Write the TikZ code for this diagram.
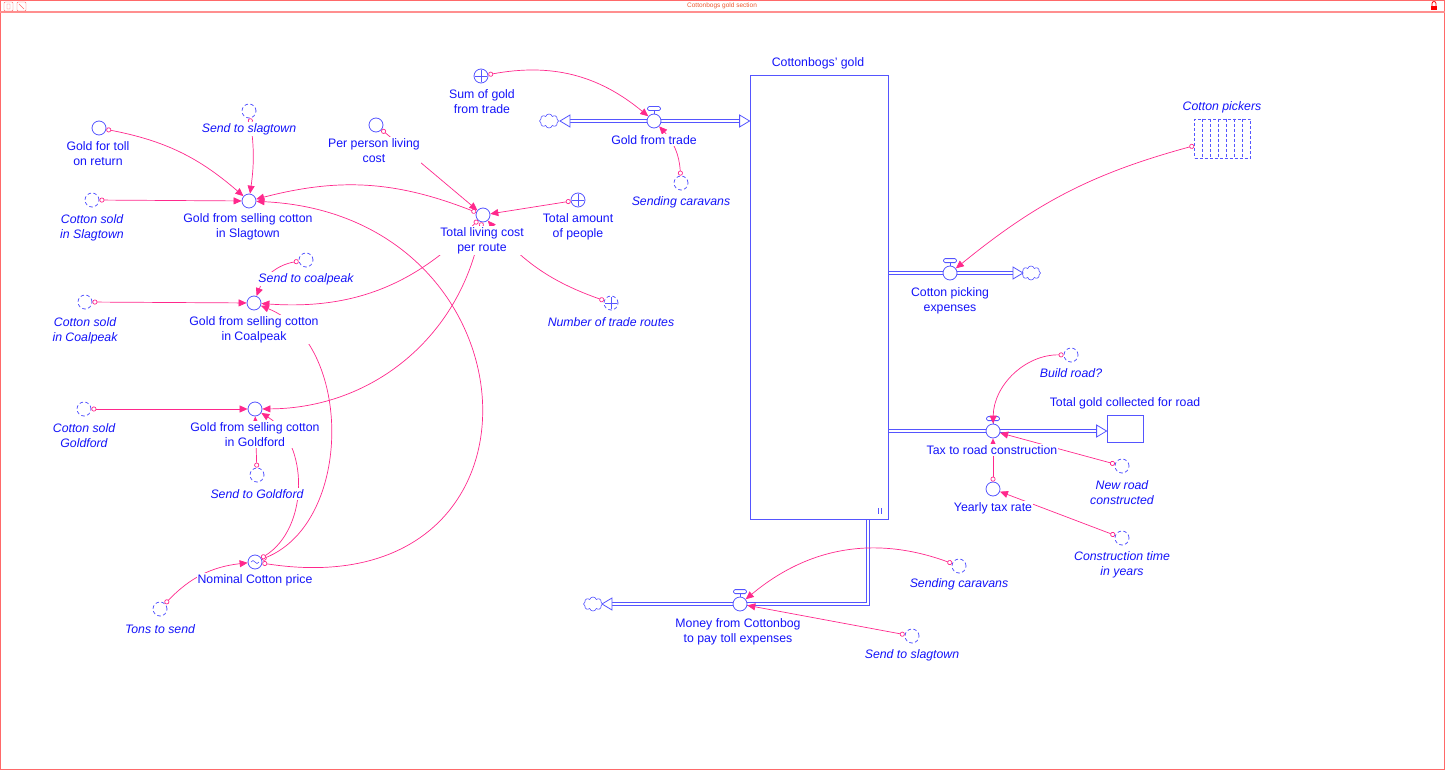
\documentclass[tikz,border=0pt]{standalone}
\usepackage{fontspec}
\setmainfont{Liberation Sans}
\usetikzlibrary{arrows.meta,shapes.symbols,backgrounds,positioning}
\definecolor{txtc}{RGB}{20,20,250}
\definecolor{linec}{RGB}{85,85,255}
\definecolor{linkc}{RGB}{255,40,140}
\definecolor{framec}{RGB}{255,105,105}
\definecolor{titlec}{RGB}{235,90,50}
\tikzset{
  lbl/.style={font=\fontsize{12.3}{15}\selectfont, text=txtc, align=center, inner sep=1pt, fill=white},
  glbl/.style={lbl, font=\fontsize{12.3}{15}\selectfont\itshape},
  aux/.style={circle, draw=linec, fill=white, minimum size=14pt, inner sep=0pt, line width=0.8pt},
  ghost/.style={aux, dash pattern=on 3.5pt off 2.5pt},
  plusmark/.style={path picture={\draw[linec, line width=0.7pt, solid]
      ([yshift=-1pt]path picture bounding box.north) -- ([yshift=1pt]path picture bounding box.south)
      ([xshift=1pt]path picture bounding box.west) -- ([xshift=-1pt]path picture bounding box.east);}},
  tildemark/.style={path picture={\draw[linec, line width=0.6pt]
      ([xshift=-4pt]path picture bounding box.center) sin ++(2,1.5) cos ++(2,-1.5) sin ++(2,-1.5) cos ++(2,1.5);}},
  stock/.style={draw=linec, fill=white, line width=0.8pt, inner sep=0pt},
  cloudy/.style={cloud, cloud puffs=8, draw=linec, fill=white, minimum width=19pt, minimum height=14pt, inner sep=0pt, line width=0.6pt},
  pipe/.style={draw=linec, double=white, double distance=2.4pt, line width=0.8pt},
  pipehead/.style={draw=linec, fill=white, line width=0.8pt, line join=miter},
  link/.style={draw=linkc, line width=0.7pt, arrows={Circle[length=5pt,width=5pt,fill=white]-Triangle[length=8pt,width=7pt]}},
}
\newcommand*{\valvecap}[1]{%
  \draw[linec, line width=0.8pt] (#1.north) -- ++(0,3);
  \draw[linec, line width=0.8pt, fill=white, rounded corners=1.5pt]
    ([shift={(-6.5,3)}]#1.north) rectangle ([shift={(6.5,7)}]#1.north);
}
\newcommand*{\pipehead}[2]{%
  \draw[pipehead, shift={(#1)}, rotate=#2] (0,0) -- (-10,6) -- (-10,-6) -- cycle;
}
\begin{document}
\begin{tikzpicture}[x=1pt, y=1pt]
  \useasboundingbox (0,0) rectangle (1445,-770);

  \draw[framec] (0.5,-0.5) rectangle (1444.5,-769.5);
  \draw[framec!75, line width=2pt] (0,-12) -- (1445,-12);
  \node[font=\fontsize{6.5}{7}\selectfont, text=titlec, inner sep=0pt] (title) at (722,-6) {Cottonbogs gold section};
  \draw[framec, rounded corners=1pt] (4,-2) rectangle (13,-11) (17,-2) rectangle (26,-11);
  \draw[framec] (7,-4) rectangle (10,-9) (19,-4) -- (24,-9);
  \fill[red] (1431,-6) rectangle (1437,-10);
  \draw[red, line width=0.8pt] (1432,-6) -- (1432,-3.5) arc (180:0:2) -- (1436,-6);

  \node[stock, minimum width=138pt, minimum height=444pt] (cbg) at (819,-297) {};
  \node[stock, minimum width=36pt, minimum height=27pt] (tgc) at (1125,-428.5) {};
  \draw[linec, line width=0.6pt] (878,-508) -- (878,-514) (881,-508) -- (881,-514);

  \node[draw=linec, dash pattern=on 3pt off 2pt, line width=0.7pt, minimum width=56pt, minimum height=39pt, inner sep=0pt] (picker) at (1222.5,-138.5) {};
  \foreach \k in {1,...,6}
  {
    \draw[linec, dash pattern=on 3pt off 2pt, line width=0.7pt] ([xshift=\k*8pt]picker.north west) -- ([xshift=\k*8pt]picker.south west);
  }

  \node[cloudy] (cl1) at (549,-121) {};
  \node[cloudy] (cl2) at (1031,-273) {};
  \node[cloudy] (cl3) at (593,-604) {};

  \node[aux] (vtrade) at (654,-121) {};
  \node[aux] (vpick) at (950,-273) {};
  \node[aux] (vtax) at (993,-431) {};
  \node[aux] (vmoney) at (740,-604) {};
  \foreach \v in {vtrade, vpick, vtax, vmoney}
  {
    \valvecap{\v}
  }

  \coordinate (tradeTip) at (560,-121);
  \coordinate (tradeIn) at (cbg.west |- vtrade);
  \coordinate (pickOut) at (cbg.east |- vpick);
  \coordinate (pickTip) at (1023,-273);
  \coordinate (taxOut) at (cbg.east |- vtax);
  \coordinate (taxIn) at (tgc.west |- vtax);
  \coordinate (moneyOut) at (868,-519);
  \coordinate (moneyBend) at (868,-604);
  \coordinate (moneyTip) at (602,-604);

  \begin{scope}[on background layer]
    \draw[pipe] ([xshift=10pt]tradeTip) -- (vtrade) -- ([xshift=-10pt]tradeIn);
    \draw[pipe] (pickOut) -- (vpick) -- ([xshift=-10pt]pickTip);
    \draw[pipe] (taxOut) -- (vtax) -- ([xshift=-10pt]taxIn);
    \draw[pipe] (moneyOut) -- (moneyBend) -- (vmoney) -- ([xshift=10pt]moneyTip);
  \end{scope}
  \pipehead{tradeTip}{180}
  \pipehead{tradeIn}{0}
  \pipehead{pickTip}{0}
  \pipehead{taxIn}{0}
  \pipehead{moneyTip}{180}

  \node[aux] (glt) at (99,-128) {};
  \node[ghost] (sst1) at (249,-111) {};
  \node[ghost] (csl) at (92,-200) {};
  \node[aux] (gsl) at (249,-201) {};
  \node[aux] (ppl) at (376,-125) {};
  \node[aux] (tlc) at (483,-215) {};
  \node[aux, plusmark] (tap) at (578,-200) {};
  \node[aux, plusmark] (sgt) at (481,-76) {};
  \node[ghost] (sc1) at (681,-183) {};
  \node[ghost, plusmark] (ntr) at (611,-303) {};
  \node[ghost] (stc) at (306,-260) {};
  \node[ghost] (ccp) at (85,-302) {};
  \node[aux] (gcp) at (254,-303) {};
  \node[ghost] (cgf) at (84,-409) {};
  \node[aux] (ggf) at (255,-409) {};
  \node[ghost] (stg) at (257,-475) {};
  \node[aux, tildemark] (ncp) at (255,-562) {};
  \node[ghost] (tts) at (160,-609) {};
  \node[ghost] (brd) at (1071,-355) {};
  \node[ghost] (nrc) at (1122,-466) {};
  \node[aux] (ytr) at (993,-489) {};
  \node[ghost] (ctm) at (1122,-538) {};
  \node[ghost] (sc2) at (959,-566) {};
  \node[ghost] (sst2) at (912,-636) {};

  \draw[link] (glt) to[bend left=15] (gsl);
  \draw[link] (sst1) to[bend left=8] (gsl);
  \draw[link] (csl) -- (gsl);
  \draw[link] (tlc) to[bend right=18] (gsl);
  \draw[link] (ncp) .. controls (565,-610) and (545,-215) .. (gsl);
  \draw[link] (ppl) -- (tlc);
  \draw[link] (tap) -- (tlc);
  \draw[link] (ntr) to[bend left=15] (tlc);
  \draw[link] (tlc) to[bend left=25] (gcp);
  \draw[link] (tlc) to[bend left=40] (ggf);
  \draw[link] (stc) to[bend right=30] (gcp);
  \draw[link] (ccp) -- (gcp);
  \draw[link] (ncp) to[bend right=68] (gcp);
  \draw[link] (cgf) -- (ggf);
  \draw[link] (stg) -- (ggf);
  \draw[link] (ncp) to[bend right=58] (ggf);
  \draw[link] (tts) to[bend left=20] (ncp);
  \draw[link] (sgt) to[bend left=25] (vtrade);
  \draw[link] (sc1) to[bend right=20] (vtrade);
  \draw[link] (picker) to[bend right=12] (vpick);
  \draw[link] (brd) to[bend right=45] (vtax);
  \draw[link] (nrc) -- (vtax);
  \draw[link] (ytr) -- (vtax);
  \draw[link] (ctm) -- (ytr);
  \draw[link] (sc2) to[bend right=30] (vmoney);
  \draw[link] (sst2) -- (vmoney);

  \node[lbl] (cbgL) at (818,-63) {Cottonbogs' gold};
  \node[lbl] (tgcL) at (1125,-403) {Total gold collected for road};
  \node[glbl] (pickerL) at (1222,-107) {Cotton pickers};
  \node[lbl] (vtradeL) at (654,-140) {Gold from trade};
  \node[lbl] (vpickL) at (950,-300.5) {Cotton picking\\expenses};
  \node[lbl] (vtaxL) at (992,-450) {Tax to road construction};
  \node[lbl] (vmoneyL) at (738,-631.5) {Money from Cottonbog\\to pay toll expenses};
  \node[lbl] (gltL) at (98,-153.5) {Gold for toll\\on return};
  \node[glbl] (sst1L) at (249,-129) {Send to slagtown};
  \node[glbl] (cslL) at (92,-227.5) {Cotton sold\\in Slagtown};
  \node[lbl] (gslL) at (248,-227) {Gold from selling cotton\\in Slagtown};
  \node[lbl] (pplL) at (374,-150.5) {Per person living\\cost};
  \node[lbl] (tlcL) at (482,-240.5) {Total living cost\\per route};
  \node[lbl] (tapL) at (578,-226.5) {Total amount\\of people};
  \node[lbl] (sgtL) at (482,-101.5) {Sum of gold\\from trade};
  \node[glbl] (sc1L) at (681,-202) {Sending caravans};
  \node[glbl] (ntrL) at (611,-322) {Number of trade routes};
  \node[glbl] (stcL) at (306,-279) {Send to coalpeak};
  \node[glbl] (ccpL) at (85,-330.5) {Cotton sold\\in Coalpeak};
  \node[lbl] (gcpL) at (254,-329.5) {Gold from selling cotton\\in Coalpeak};
  \node[glbl] (cgfL) at (84,-435.5) {Cotton sold\\Goldford};
  \node[lbl] (ggfL) at (255,-434.5) {Gold from selling cotton\\in Goldford};
  \node[glbl] (stgL) at (257,-494) {Send to Goldford};
  \node[lbl] (ncpL) at (255,-580) {Nominal Cotton price};
  \node[glbl] (ttsL) at (160,-629) {Tons to send};
  \node[glbl] (brdL) at (1071,-373) {Build road?};
  \node[glbl] (nrcL) at (1122,-492.5) {New road\\constructed};
  \node[lbl] (ytrL) at (993,-508) {Yearly tax rate};
  \node[glbl] (ctmL) at (1122,-564.5) {Construction time\\in years};
  \node[glbl] (sc2L) at (959,-584) {Sending caravans};
  \node[glbl] (sst2L) at (912,-655) {Send to slagtown};
\end{tikzpicture}
\end{document}
